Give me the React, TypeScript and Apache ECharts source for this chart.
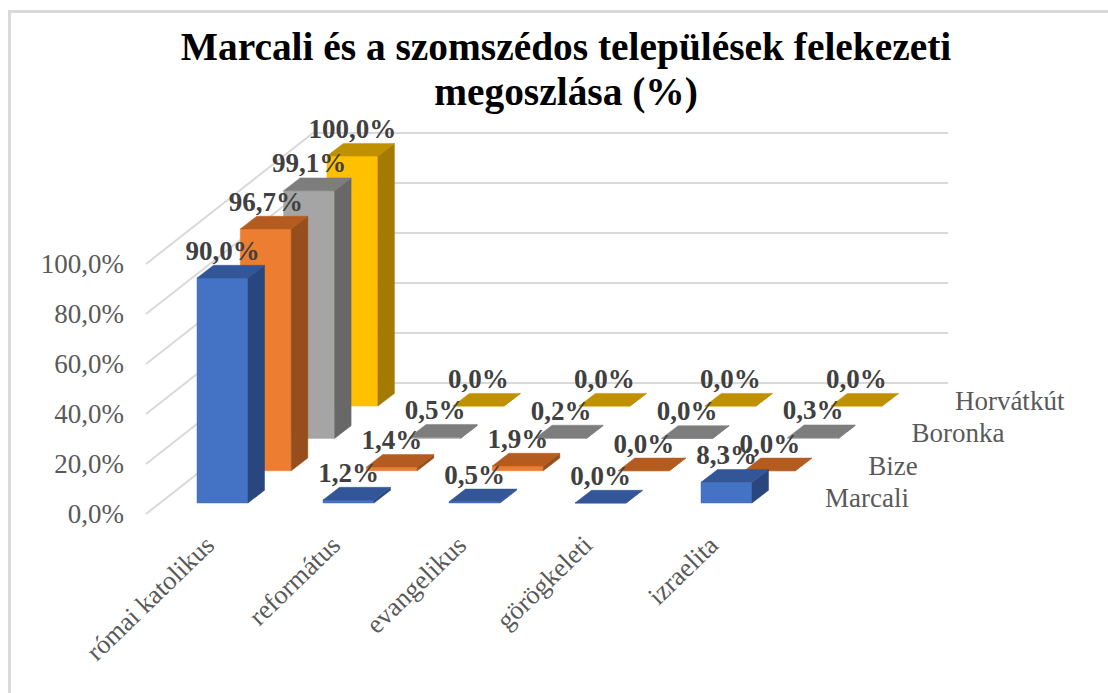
import React, { useEffect, useRef } from "react";
import * as echarts from "echarts";

const categories = ["római katolikus", "református", "evangelikus", "görögkeleti", "izraelita"];
const depthNames = ["Marcali", "Bize", "Boronka", "Horvátkút"];
const marcali = [90.0, 1.2, 0.5, 0.0, 8.3];
const bize = [96.7, 1.4, 1.9, 0.0, 0.0];
const boronka = [99.1, 0.5, 0.2, 0.0, 0.3];
const horvatkut = [100.0, 0.0, 0.0, 0.0, 0.0];
const valueTicks = [0, 20, 40, 60, 80, 100];
const seriesValues = [marcali, bize, boronka, horvatkut];
const palette = [
  { front: "#4472C4", top: "#325697", side: "#29477E" },
  { front: "#ED7D31", top: "#B45C20", side: "#954E1C" },
  { front: "#A5A5A5", top: "#7D7D7D", side: "#686868" },
  { front: "#FFC000", top: "#BF9000", side: "#A37B00" },
];

const FONT = "'Liberation Serif', 'Times New Roman', serif";
const STEP_X = 43.3;
const STEP_Y = 32.3;
const BASE_Y = 11;
const HALF = 25.5;
const SIDE_X = 16.5;
const SIDE_Y = 12.7;

const fmt = (v: number) => v.toFixed(1).replace(".", ",") + "%";

function barSeries(index: number) {
  const color = palette[index];
  return {
    type: "custom",
    z: 3,
    silent: true,
    data: seriesValues[index].map((v, i) => [i, v]),
    encode: { x: 0, y: 1 },
    renderItem: (_p: any, api: any) => {
      const c = api.value(0);
      const v = api.value(1);
      const b = api.coord([c, 0]);
      const t = api.coord([c, v]);
      const ox = b[0] + STEP_X * index;
      const bottom = b[1] - BASE_Y - STEP_Y * index;
      const top = t[1] - BASE_Y - STEP_Y * index;
      const l = ox - HALF;
      const r = ox + HALF;
      const poly = (points: number[][], fill: string) => ({
        type: "polygon",
        shape: { points },
        style: { fill, stroke: fill, lineWidth: 0.5 },
      });
      return {
        type: "group",
        children: [
          poly([[l, top], [r, top], [r, bottom], [l, bottom]], color.front),
          poly([[r, top], [r + SIDE_X, top - SIDE_Y], [r + SIDE_X, bottom - SIDE_Y], [r, bottom]], color.side),
          poly([[l, top], [l + SIDE_X, top - SIDE_Y], [r + SIDE_X, top - SIDE_Y], [r, top]], color.top),
        ],
      };
    },
  };
}

function labelSeries(index: number) {
  return {
    type: "custom",
    z: 5,
    silent: true,
    data: seriesValues[index].map((v, i) => [i, v]),
    encode: { x: 0, y: 1 },
    renderItem: (_p: any, api: any) => {
      const c = api.value(0);
      const v = api.value(1);
      const t = api.coord([c, v]);
      return {
        type: "text",
        x: t[0] + STEP_X * index,
        y: t[1] - BASE_Y - STEP_Y * index - SIDE_Y - 14.5,
        style: {
          text: fmt(v),
          font: `bold 27px ${FONT}`,
          fill: "#404040",
          align: "center",
          verticalAlign: "middle",
        },
      };
    },
  };
}

const gridSeries = {
  type: "custom",
  z: 1,
  silent: true,
  data: valueTicks.map((v) => [0, v]),
  encode: { x: 0, y: 1 },
  renderItem: (p: any, api: any) => {
    const y = api.coord([0, api.value(1)])[1];
    const left = p.coordSys.x - 13.5;
    return {
      type: "polyline",
      shape: { points: [[left, y], [left + 167, y - 131], [948, y - 131]] },
      style: { fill: "none", stroke: "#D9D9D9", lineWidth: 2 },
    };
  },
};

const depthSeries = {
  type: "custom",
  z: 2,
  silent: true,
  data: depthNames.map((_n, i) => [4, i]),
  encode: { x: 0 },
  renderItem: (_p: any, api: any) => {
    const i = api.value(1);
    const c = api.coord([4, 0]);
    return {
      type: "text",
      x: c[0] + 98.5 + STEP_X * i,
      y: c[1] - 16 - STEP_Y * i,
      style: {
        text: depthNames[i],
        font: `27px ${FONT}`,
        fill: "#595959",
        align: "left",
        verticalAlign: "middle",
      },
    };
  },
};

export default function App() {
  const ref = useRef<HTMLDivElement>(null);
  useEffect(() => {
    document.body.style.margin = "0";
    const chart = echarts.init(ref.current!, undefined, { renderer: "svg" });
    chart.setOption({
      animation: false,
      backgroundColor: "#ffffff",
      title: {
        text: "Marcali és a szomszédos települések felekezeti\nmegoszlása (%)",
        left: 566,
        top: 19,
        textAlign: "center",
        textStyle: {
          fontFamily: FONT,
          fontWeight: "bold",
          fontSize: 39.4,
          lineHeight: 45,
          color: "#000000",
        },
        padding: [5, 10, 5, 0],
      },
      grid: { left: 159.5, top: 264, width: 630, height: 250 },
      xAxis: {
        type: "category",
        data: categories,
        axisLine: { show: false },
        axisTick: { show: false },
        axisLabel: {
          interval: 0,
          rotate: 44,
          margin: 14,
          padding: [0, 18, 0, 0],
          fontFamily: FONT,
          fontSize: 26.5,
          color: "#595959",
        },
      },
      yAxis: {
        type: "value",
        min: 0,
        max: 100,
        interval: 20,
        axisLine: { show: false },
        axisTick: { show: false },
        splitLine: { show: false },
        axisLabel: {
          margin: 35.5,
          fontFamily: FONT,
          fontSize: 27,
          color: "#595959",
          formatter: (v: number) => fmt(v),
        },
      },
      graphic: [
        { type: "rect", shape: { x: 8, y: 10, width: 3, height: 683 }, style: { fill: "#D9D9D9" }, silent: true },
        { type: "rect", shape: { x: 8, y: 10, width: 1100, height: 3 }, style: { fill: "#D9D9D9" }, silent: true },
      ],
      series: [
        gridSeries,
        depthSeries,
        barSeries(3),
        barSeries(2),
        barSeries(1),
        barSeries(0),
        labelSeries(3),
        labelSeries(2),
        labelSeries(1),
        labelSeries(0),
      ],
    });
    return () => chart.dispose();
  }, []);
  return <div ref={ref} style={{ position: "fixed", left: 0, top: 0, width: 1108, height: 693 }} />;
}
